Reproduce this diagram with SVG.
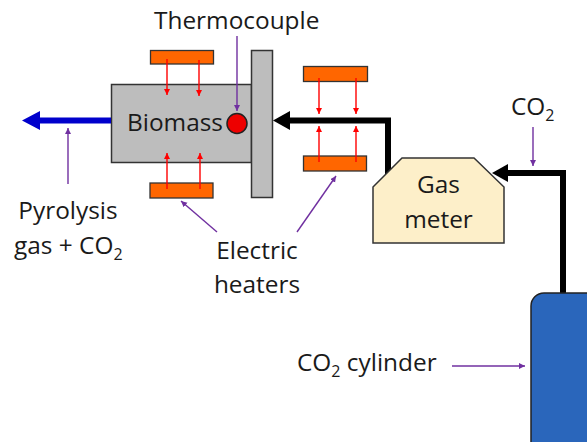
<svg xmlns="http://www.w3.org/2000/svg" width="587" height="442" viewBox="0 0 587 442">
<style>
text{font-family:"Open Sans","Noto Sans","Liberation Sans",sans-serif;font-size:24.4px;fill:#1a1a1a}
.sub{font-size:16px}
.m{text-anchor:middle}
.h{fill:#ff6600;stroke:#333;stroke-width:1.3}
.g{fill:#bdbdbd;stroke:#333;stroke-width:1.5}
.r{stroke:#ff0000;stroke-width:1.4;fill:none;marker-end:url(#ar)}
.p{stroke:#7030a0;stroke-width:1.4;fill:none;marker-end:url(#ap)}
.k{stroke:#000;stroke-width:6;fill:none;stroke-linejoin:miter}
</style>
<defs>
<marker id="ar" markerUnits="userSpaceOnUse" markerWidth="7" markerHeight="7" refX="6" refY="3" orient="auto"><path d="M0 0L6 3L0 6Z" fill="#ff0000"/></marker>
<marker id="ap" markerUnits="userSpaceOnUse" markerWidth="7" markerHeight="7" refX="6" refY="3" orient="auto"><path d="M0 0L6 3L0 6Z" fill="#7030a0"/></marker>
</defs>
<g id="reactor"><rect class="g" x="111.5" y="84.5" width="140" height="78"/><text x="127" y="131">Biomass</text></g>
<g id="plate"><rect class="g" x="251.5" y="50.5" width="21" height="147"/></g>
<g id="thermocouple"><circle cx="237" cy="123.5" r="10" fill="#ee0000" stroke="#222" stroke-width="1.5"/></g>
<g id="heater-1"><rect class="h" x="150.5" y="50.5" width="63" height="13.5"/></g>
<g id="heater-2"><rect class="h" x="150" y="183" width="63" height="15"/></g>
<g id="heater-3"><rect class="h" x="303.5" y="66.5" width="64" height="15"/></g>
<g id="heater-4"><rect class="h" x="303.5" y="156" width="63" height="15"/></g>
<g id="connectors">
<path d="M22 120.5H40V111ZM22 120.5H40V130Z" fill="#0000cc"/><path d="M38 120.5H111" stroke="#0000cc" stroke-width="6" fill="none"/>
<path class="k" d="M388 180V120.5H288"/><path d="M273 120.5L290 111V130Z" fill="#000"/>
<path class="k" d="M563 295V173H506"/><path d="M492 173L508 164V182Z" fill="#000"/>
<path class="r" d="M167 59V95"/><path class="r" d="M199 60V96"/>
<path class="r" d="M167 189V153"/><path class="r" d="M200 189V153"/>
<path class="r" d="M319 78V114"/><path class="r" d="M356 78V114"/>
<path class="r" d="M319 162V126"/><path class="r" d="M356 162V126"/>
<path class="p" d="M237 36V111"/>
<path class="p" d="M68 184V128"/>
<path class="p" d="M533 127V166"/>
<path class="p" d="M217 232L181 201"/>
<path class="p" d="M297 232L336 176"/>
<path class="p" d="M452 366H525"/>
</g>
<g id="gas-meter"><polygon points="373,187 402,158 474,158 504,187 504,243 373,243" fill="#fdefc9" stroke="#333" stroke-width="1.5"/><text class="m" x="438.5" y="193">Gas</text><text class="m" x="438.5" y="228">meter</text></g>
<g id="cylinder"><rect x="531" y="293" width="80" height="180" rx="13" fill="#2a66bb" stroke="#222" stroke-width="1.5"/></g>
<g id="labels">
<text x="154" y="29">Thermocouple</text>
<text class="m" x="68" y="219">Pyrolysis</text>
<text x="14" y="254">gas + CO<tspan class="sub" dy="6">2</tspan></text>
<text class="m" x="257" y="259">Electric</text>
<text class="m" x="257" y="293">heaters</text>
<text x="511" y="115">CO<tspan class="sub" dy="6">2</tspan></text>
<text x="297" y="371">CO<tspan class="sub" dy="6">2</tspan><tspan dy="-6"> cylinder</tspan></text>
</g>
</svg>
